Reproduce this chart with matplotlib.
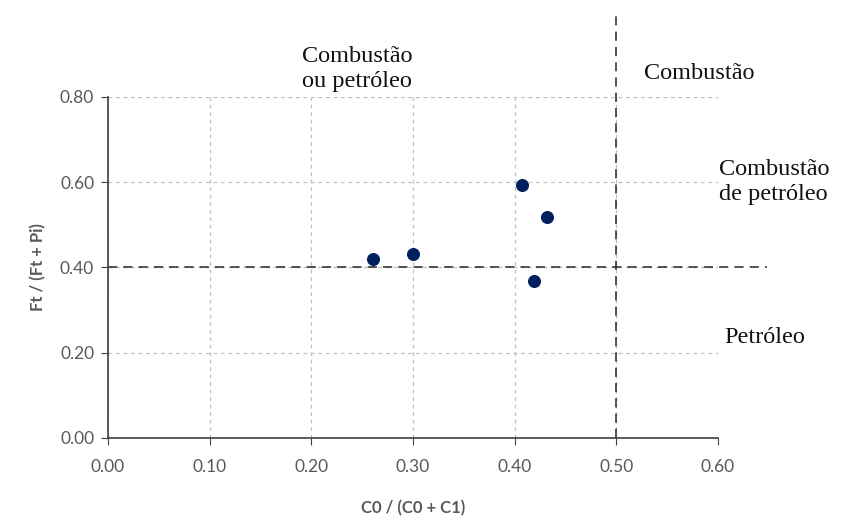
import matplotlib.pyplot as plt
import numpy as np

# C0/(C0+C1) vs Ft/(Ft+Pi) diagnostic ratios
c0_ratio = [0.261, 0.300, 0.407, 0.432, 0.419]
ft_ratio = [0.420, 0.432, 0.594, 0.519, 0.368]

x_ticks = [0.0, 0.1, 0.2, 0.3, 0.4, 0.5, 0.6]
y_ticks = [0.0, 0.2, 0.4, 0.6, 0.8]

# threshold values splitting the diagram into regions
x_limit = 0.5
y_limit = 0.4

fig = plt.figure(figsize=(8.54, 5.2), dpi=100)
ax = fig.add_axes([0.1265, 0.1577, 0.7142, 0.6558])

ax.set_xlim(0, 0.6)
ax.set_ylim(0, 0.8)
ax.set_xticks(x_ticks)
ax.set_yticks(y_ticks)
ax.set_xticklabels(["%.2f" % v for v in x_ticks])
ax.set_yticklabels(["%.2f" % v for v in y_ticks])

ax.grid(True, color="#bfbfbf", linestyle=(0, (3, 3)), linewidth=0.9)
ax.set_axisbelow(True)
for s in ["top", "right"]:
    ax.spines[s].set_visible(False)
for s in ["left", "bottom"]:
    ax.spines[s].set_color("#404040")
    ax.spines[s].set_linewidth(1.2)

ax.tick_params(axis="both", direction="out", length=5, color="#404040",
               labelcolor="#595959", labelsize=12.5)
ax.tick_params(axis="x", pad=10)
ax.tick_params(axis="y", pad=5)
for lbl in ax.get_xticklabels() + ax.get_yticklabels():
    lbl.set_family("Lato")

# threshold lines, running past the plot frame
ax.plot([x_limit, x_limit], [0, 1.005], color="#262626", lw=1.1,
        linestyle=(0, (6, 4)), clip_on=False, zorder=2)
ax.plot([0, 0.648], [y_limit, y_limit], color="#262626", lw=1.1,
        linestyle=(0, (6, 4)), clip_on=False, zorder=2)

ax.scatter(c0_ratio, ft_ratio, s=70, color="#002060", zorder=3)

ax.set_xlabel("C0 / (C0 + C1)", fontsize=12, fontweight="bold", color="#595959",
              family="Lato", labelpad=18)
ax.set_ylabel("Ft / (Ft + Pi)", fontsize=12, fontweight="bold", color="#595959",
              family="Lato", labelpad=10)

# region labels
tfont = dict(family="Liberation Serif", fontsize=17.5, color="#111111")
ax.text(0.245, 0.812, "Combustão\nou petróleo", ha="center", va="bottom",
        linespacing=1.25, clip_on=False, **tfont)
ax.text(0.527, 0.854, "Combustão", ha="left", va="center", clip_on=False, **tfont)
ax.text(0.601, 0.601, "Combustão\nde petróleo", ha="left", va="center",
        linespacing=1.25, clip_on=False, **tfont)
ax.text(0.606, 0.235, "Petróleo", ha="left", va="center", clip_on=False, **tfont)

fig.savefig("out.png", dpi=100)
